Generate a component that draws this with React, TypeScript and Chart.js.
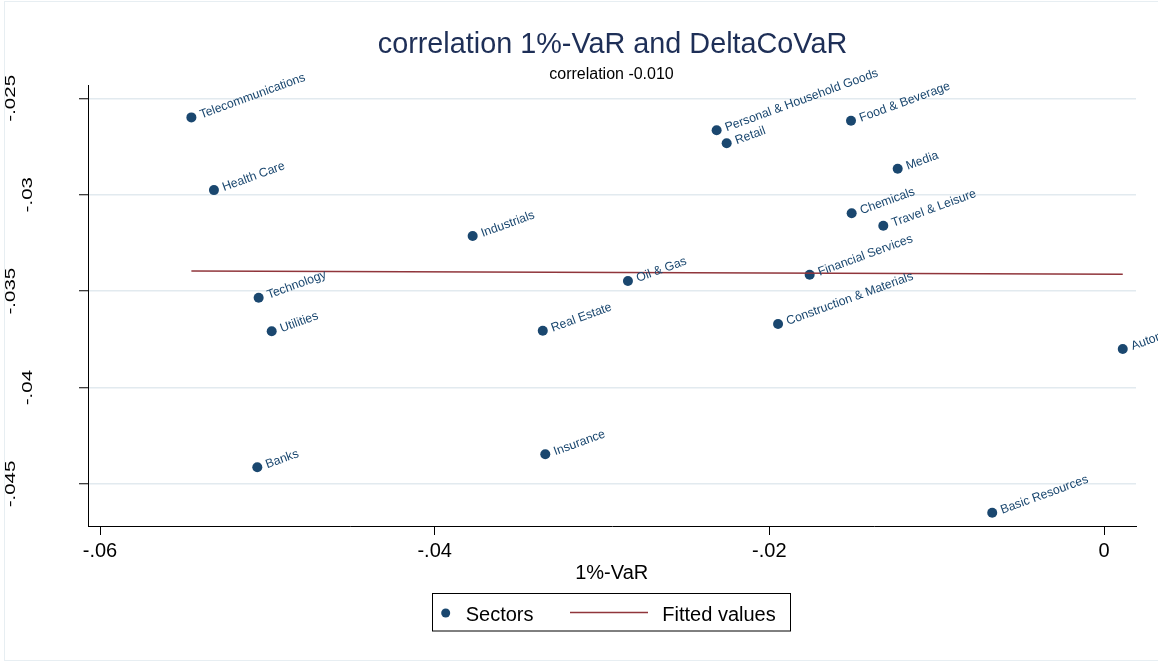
import React, { useEffect, useRef } from "react";
import { Chart, registerables } from "chart.js";

Chart.register(...registerables);

// Sector observations: 1%-VaR (x) against DeltaCoVaR (y)
const sectorNames = [
  "Telecommunications",
  "Health Care",
  "Personal & Household Goods",
  "Retail",
  "Industrials",
  "Oil & Gas",
  "Food & Beverage",
  "Media",
  "Chemicals",
  "Travel & Leisure",
  "Financial Services",
  "Construction & Materials",
  "Real Estate",
  "Insurance",
  "Technology",
  "Utilities",
  "Banks",
  "Automobiles & Parts",
  "Basic Resources",
];
const sectorVaR = [
  -0.05454, -0.05319, -0.02315, -0.02255, -0.03773, -0.02845, -0.01512, -0.01233, -0.01508,
  -0.01319, -0.01759, -0.01948, -0.03354, -0.03339, -0.05052, -0.04974, -0.0506, 0.00112,
  -0.00668,
];
const sectorDeltaCoVaR = [
  -0.02599, -0.02976, -0.02666, -0.02733, -0.03214, -0.03447, -0.02616, -0.02865, -0.03096,
  -0.03161, -0.03415, -0.0367, -0.03705, -0.04346, -0.03534, -0.03708, -0.04413, -0.038,
  -0.04649,
];

// Linear fit endpoints
const fittedVaR = [-0.05454, 0.00112];
const fittedDeltaCoVaR = [-0.033955, -0.034126];

// Axes
const xRange = [-0.060718, 0.001912];
const yRange = [-0.047178, -0.02431];
const xTickValues = [-0.06, -0.04, -0.02, 0];
const xTickLabels = ["-.06", "-.04", "-.02", "0"];
const yTickValues = [-0.045, -0.04, -0.035, -0.03, -0.025];
const yTickLabels = ["-.045", "-.04", "-.035", "-.03", "-.025"];

const titleText = "correlation 1%-VaR and DeltaCoVaR";
const subtitleText = "correlation -0.010";
const xAxisTitle = "1%-VaR";
const legendLabels = ["Sectors", "Fitted values"];

const FONT = '"Liberation Sans", Arial, Helvetica, sans-serif';
const NAVY = "#1a476f";
const MAROON = "#90353b";
const TITLE_COLOR = "#1e2f57";
const GRID = "#e2eaef";

const W = 1158;
const H = 662;

const decorPlugin = {
  id: "decor",
  beforeDraw(chart: any) {
    const ctx = chart.ctx;
    ctx.save();
    ctx.fillStyle = "#ffffff";
    ctx.fillRect(0, 0, W, H);
    ctx.strokeStyle = "#e7eef2";
    ctx.lineWidth = 1;
    ctx.strokeRect(4.5, 1.5, W + 20, H - 3);
    ctx.restore();
  },
  afterDatasetsDraw(chart: any) {
    const ctx = chart.ctx;
    const meta = chart.getDatasetMeta(1);
    ctx.save();
    ctx.font = `12.3px ${FONT}`;
    ctx.fillStyle = NAVY;
    ctx.textAlign = "left";
    ctx.textBaseline = "alphabetic";
    meta.data.forEach((pt: any, i: number) => {
      ctx.save();
      ctx.translate(pt.x + 10, pt.y + 1);
      ctx.rotate((-20 * Math.PI) / 180);
      ctx.fillText(sectorNames[i], 0, 0);
      ctx.restore();
    });
    ctx.restore();
  },
  afterDraw(chart: any) {
    const ctx = chart.ctx;
    ctx.save();

    // titles
    ctx.textAlign = "center";
    ctx.textBaseline = "alphabetic";
    ctx.fillStyle = TITLE_COLOR;
    ctx.font = `28.8px ${FONT}`;
    ctx.fillText(titleText, 612.5, 53);
    ctx.fillStyle = "#000";
    ctx.font = `16px ${FONT}`;
    ctx.fillText(subtitleText, 611.5, 79);

    // vertical y tick labels
    const yScale = chart.scales.y;
    ctx.font = `20.5px ${FONT}`;
    ctx.textBaseline = "middle";
    yTickValues.forEach((v, i) => {
      const lbl = yTickLabels[i];
      const py = yScale.getPixelForValue(v);
      const lx = lbl.length > 4 ? 11 : 28;
      ctx.save();
      ctx.translate(lx, py);
      ctx.rotate(-Math.PI / 2);
      ctx.scale(1, 0.75);
      ctx.fillText(lbl, 0, 0);
      ctx.restore();
    });

    // x axis title
    ctx.textBaseline = "alphabetic";
    ctx.font = `20px ${FONT}`;
    ctx.fillText(xAxisTitle, 611.7, 579);

    // legend
    const bx = 432.5, by = 593.5, bw = 358, bh = 37.5;
    ctx.strokeStyle = "#000";
    ctx.lineWidth = 1;
    ctx.strokeRect(bx, by, bw, bh);
    ctx.fillStyle = NAVY;
    ctx.beginPath();
    ctx.arc(445.7, 613, 4.5, 0, Math.PI * 2);
    ctx.fill();
    ctx.strokeStyle = MAROON;
    ctx.lineWidth = 1.5;
    ctx.beginPath();
    ctx.moveTo(570, 612.5);
    ctx.lineTo(648, 612.5);
    ctx.stroke();
    ctx.fillStyle = "#000";
    ctx.textAlign = "left";
    ctx.font = `20px ${FONT}`;
    ctx.fillText(legendLabels[0], 465.7, 621);
    ctx.fillText(legendLabels[1], 662.3, 621);

    ctx.restore();
  },
};

export default function App() {
  const canvasRef = useRef<HTMLCanvasElement | null>(null);

  useEffect(() => {
    document.body.style.margin = "0";
    const canvas = canvasRef.current;
    if (!canvas) return;

    const scatterPoints = sectorVaR.map((x, i) => ({ x, y: sectorDeltaCoVaR[i] }));
    const fitPoints = fittedVaR.map((x, i) => ({ x, y: fittedDeltaCoVaR[i] }));

    const chart = new Chart(canvas, {
      type: "scatter",
      data: {
        datasets: [
          {
            label: legendLabels[1],
            data: fitPoints,
            showLine: true,
            borderColor: MAROON,
            borderWidth: 1.5,
            pointRadius: 0,
            pointHoverRadius: 0,
          },
          {
            label: legendLabels[0],
            data: scatterPoints,
            backgroundColor: NAVY,
            borderWidth: 0,
            pointRadius: 5,
            pointHoverRadius: 5,
          },
        ],
      },
      options: {
        responsive: false,
        animation: false,
        events: [],
        layout: { padding: { left: 0, top: 85, right: 22, bottom: 0 } },
        plugins: {
          legend: { display: false },
          title: { display: false },
          tooltip: { enabled: false },
        },
        scales: {
          x: {
            type: "linear",
            position: "bottom",
            min: xRange[0],
            max: xRange[1],
            afterBuildTicks: (scale: any) => {
              scale.ticks = xTickValues.map((value) => ({ value }));
            },
            afterFit: (scale: any) => {
              scale.height = H - 526;
            },
            grid: {
              display: true,
              drawOnChartArea: false,
              drawTicks: true,
              tickLength: 9,
              color: "rgba(0,0,0,0)",
              tickColor: "#000",
              tickWidth: 1,
            },
            border: { display: true, color: "#000", width: 1 },
            ticks: {
              padding: 4,
              color: "#000",
              font: { family: FONT, size: 20 },
              maxRotation: 0,
              autoSkip: false,
              callback: (_v: any, index: number) => xTickLabels[index],
            },
          },
          y: {
            type: "linear",
            position: "left",
            min: yRange[0],
            max: yRange[1],
            afterBuildTicks: (scale: any) => {
              scale.ticks = yTickValues.map((value) => ({ value }));
            },
            afterFit: (scale: any) => {
              scale.width = 88;
            },
            grid: {
              display: true,
              drawOnChartArea: true,
              drawTicks: true,
              tickLength: 9,
              color: GRID,
              lineWidth: 1.5,
              tickColor: "#000",
              tickWidth: 1,
            },
            border: { display: true, color: "#000", width: 1 },
            ticks: { display: false },
          },
        },
      },
      plugins: [decorPlugin],
    });

    return () => chart.destroy();
  }, []);

  return (
    <div style={{ width: W, height: H }}>
      <canvas ref={canvasRef} width={W} height={H} style={{ display: "block" }} />
    </div>
  );
}
